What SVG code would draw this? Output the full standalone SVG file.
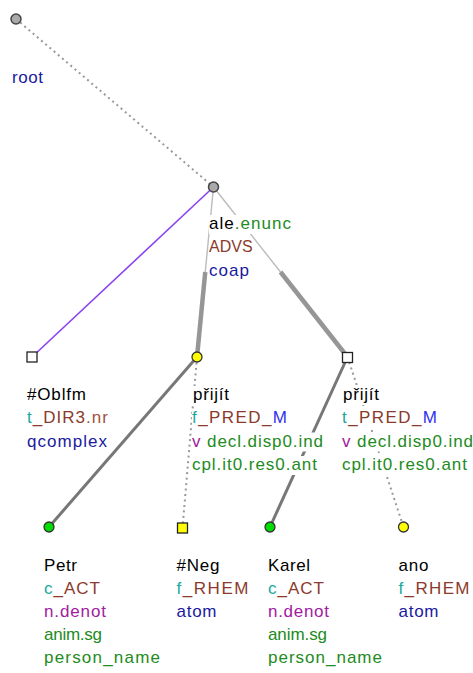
<svg xmlns="http://www.w3.org/2000/svg" width="473" height="673" viewBox="0 0 473 673">
<style>
text{font-family:"Liberation Sans",Arial,sans-serif;font-size:17px}
.bg{fill:#fff}
.k{fill:#000}.g{fill:#228b22}.br{fill:#8b3a2b}.br2{fill:#a0523d}.tl{fill:#20a8a0}.db{fill:#1a1aa0}.bl{fill:#3030f0}.pu{fill:#a020a0}
.dot{stroke:#999;stroke-width:2;stroke-dasharray:2 3.5;fill:none}
.thin{stroke:#bbb;stroke-width:1.4;fill:none}
.thick{stroke:#969696;stroke-width:4.5;fill:none}
.mid{stroke:#777;stroke-width:3;fill:none}
.purp{stroke:#8a44f0;stroke-width:1.6;fill:none}
.cg{fill:#aaa;stroke:#444;stroke-width:1.5}
.cy{fill:#ffff00;stroke:#333;stroke-width:1.3}
.cgr{fill:#00dd00;stroke:#333;stroke-width:1.3}
.sq{fill:#fff;stroke:#222;stroke-width:1.3}
.sqy{fill:#ffff00;stroke:#222;stroke-width:1.3}
</style>
<g id="edges">
<path class="dot" d="M16,19 L213.5,187"/>
<path class="purp" d="M213.5,187 L32,357"/>
<path class="thin" d="M213.5,187 L205.25,272"/>
<path class="thick" d="M205.25,272 L197,357"/>
<path class="thin" d="M213.5,187 L280.5,272"/>
<path class="thick" d="M280.5,272 L347.5,357"/>
<path class="mid" d="M197,357 L49,527"/>
<path class="dot" d="M197,357 L182.5,528"/>
<path class="mid" d="M347.5,357 L270,527"/>
<path class="dot" d="M347.5,357 L403.5,527"/>
</g>
<g id="n-root">
<circle class="cg" cx="16" cy="19" r="5"/>
<rect class="bg" x="11.5" y="69" width="32" height="19"/>
<text x="12" y="83" class="db" textLength="31" lengthAdjust="spacing">root</text>
</g>
<g id="n-ale">
<rect class="bg" x="209" y="215" width="83" height="19"/>
<rect class="bg" x="209" y="238" width="42" height="19"/>
<rect class="bg" x="209" y="261.5" width="42" height="19"/>
<text x="209" y="229" textLength="82" lengthAdjust="spacing"><tspan class="k">ale</tspan><tspan class="g">.enunc</tspan></text>
<text x="209" y="252" class="br" style="font-size:16px">ADVS</text>
<text x="209" y="275.5" class="db" textLength="40" lengthAdjust="spacing">coap</text>
<circle class="cg" cx="213.5" cy="187" r="5"/>
</g>
<g id="n-oblfm">
<rect class="sq" x="27" y="352" width="10" height="10"/>
<rect class="bg" x="26.5" y="386" width="62" height="19"/>
<rect class="bg" x="26.5" y="409" width="83" height="19"/>
<rect class="bg" x="26.5" y="432.5" width="82" height="19"/>
<text x="27" y="400" class="k" textLength="59" lengthAdjust="spacing">#Oblfm</text>
<text x="27" y="423" textLength="81" lengthAdjust="spacing"><tspan class="tl">t</tspan><tspan class="br">_DIR3</tspan><tspan class="br2">.nr</tspan></text>
<text x="27" y="446.5" class="db" textLength="80" lengthAdjust="spacing">qcomplex</text>
</g>
<g id="n-prijit1">
<rect class="bg" x="192" y="386" width="39" height="19"/>
<rect class="bg" x="192" y="409" width="97" height="19"/>
<rect class="bg" x="192" y="432.5" width="132" height="19"/>
<rect class="bg" x="192" y="456" width="126" height="19"/>
<text x="193" y="400" class="k" textLength="36" lengthAdjust="spacing">přijít</text>
<text x="192" y="423" textLength="95" lengthAdjust="spacing"><tspan class="tl">f</tspan><tspan class="br">_PRED_</tspan><tspan class="bl">M</tspan></text>
<text x="192" y="446.5" textLength="131" lengthAdjust="spacing"><tspan class="pu">v</tspan><tspan class="g"> decl.disp0.ind</tspan></text>
<text x="192" y="470" class="g" textLength="125" lengthAdjust="spacing">cpl.it0.res0.ant</text>
<circle class="cy" cx="197" cy="357" r="5"/>
</g>
<g id="n-prijit2">
<rect class="bg" x="342" y="386" width="39" height="19"/>
<rect class="bg" x="342" y="409" width="97" height="19"/>
<rect class="bg" x="342" y="432.5" width="131" height="19"/>
<rect class="bg" x="342" y="456" width="126" height="19"/>
<text x="343" y="400" class="k" textLength="36" lengthAdjust="spacing">přijít</text>
<text x="342" y="423" textLength="95" lengthAdjust="spacing"><tspan class="tl">t</tspan><tspan class="br">_PRED_</tspan><tspan class="bl">M</tspan></text>
<text x="342" y="446.5" textLength="131" lengthAdjust="spacing"><tspan class="pu">v</tspan><tspan class="g"> decl.disp0.ind</tspan></text>
<text x="342" y="470" class="g" textLength="125" lengthAdjust="spacing">cpl.it0.res0.ant</text>
<rect class="sq" x="342.5" y="352.5" width="10" height="10"/>
</g>
<g id="n-petr">
<circle class="cgr" cx="49" cy="527" r="5"/>
<text x="44" y="571" class="k" textLength="33" lengthAdjust="spacing">Petr</text>
<text x="44" y="594" textLength="56" lengthAdjust="spacing"><tspan class="tl">c</tspan><tspan class="br">_ACT</tspan></text>
<text x="44" y="617" class="pu" textLength="62" lengthAdjust="spacing">n.denot</text>
<text x="44" y="640" class="g" textLength="58" lengthAdjust="spacing">anim.sg</text>
<text x="44" y="663" class="g" textLength="116" lengthAdjust="spacing">person_name</text>
</g>
<g id="n-neg">
<rect class="sqy" x="177.5" y="523" width="10" height="10"/>
<text x="176.5" y="571" class="k" textLength="43" lengthAdjust="spacing">#Neg</text>
<text x="176.5" y="594" textLength="72" lengthAdjust="spacing"><tspan class="tl">f</tspan><tspan class="br">_RHEM</tspan></text>
<text x="176.5" y="617" class="db" textLength="40" lengthAdjust="spacing">atom</text>
</g>
<g id="n-karel">
<circle class="cgr" cx="270" cy="527" r="5"/>
<text x="268" y="571" class="k" textLength="42" lengthAdjust="spacing">Karel</text>
<text x="268" y="594" textLength="56" lengthAdjust="spacing"><tspan class="tl">c</tspan><tspan class="br">_ACT</tspan></text>
<text x="268" y="617" class="pu" textLength="61" lengthAdjust="spacing">n.denot</text>
<text x="268" y="640" class="g" textLength="59" lengthAdjust="spacing">anim.sg</text>
<text x="268" y="663" class="g" textLength="114" lengthAdjust="spacing">person_name</text>
</g>
<g id="n-ano">
<circle class="cy" cx="403.5" cy="527" r="5"/>
<text x="398.5" y="571" class="k" textLength="30" lengthAdjust="spacing">ano</text>
<text x="398.5" y="594" textLength="71" lengthAdjust="spacing"><tspan class="tl">f</tspan><tspan class="br">_RHEM</tspan></text>
<text x="398.5" y="617" class="db" textLength="40" lengthAdjust="spacing">atom</text>
</g>
</svg>
